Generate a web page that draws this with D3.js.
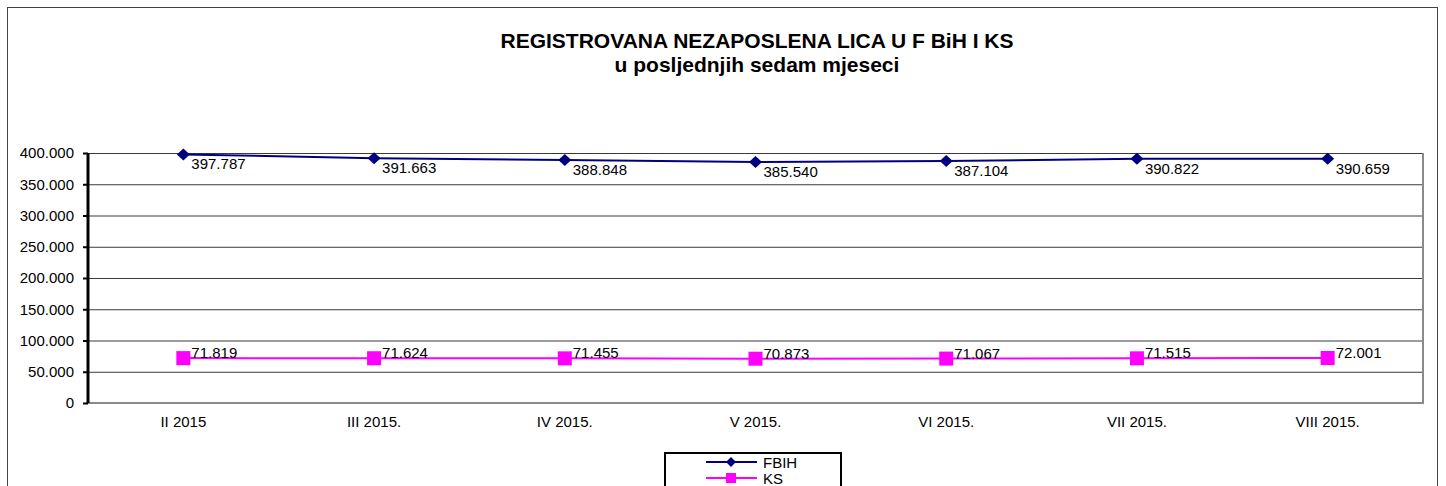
<!DOCTYPE html>
<html>
<head>
<meta charset="utf-8">
<script src="https://cdn.jsdelivr.net/npm/d3@7"></script>
<style>
  body { margin: 0; background: #fff; }
  svg { font-family: "Liberation Sans", Arial, sans-serif; }
</style>
</head>
<body>
<div id="chart"></div>
<script>
// data
const months = ["II 2015", "III 2015.", "IV 2015.", "V 2015.", "VI 2015.", "VII 2015.", "VIII 2015."];
const fbih = [397787, 391663, 388848, 385540, 387104, 390822, 390659];
const ks = [71819, 71624, 71455, 70873, 71067, 71515, 72001];
const yTicks = [0, 50000, 100000, 150000, 200000, 250000, 300000, 350000, 400000];
const seriesNames = ["FBIH", "KS"];

const width = 1446, height = 486;
const plot = { left: 88, right: 1423, top: 153, bottom: 403 };

const loc = d3.formatLocale({ decimal: ",", thousands: ".", grouping: [3], currency: ["", ""] });
const fmt = loc.format(",.0f");

let svg = d3.select("#chart").append("svg")
  .attr("width", width)
  .attr("height", height);

// outer frame
svg.append("rect")
  .attr("x", 7.5).attr("y", 7.5)
  .attr("width", 1430).attr("height", 500)
  .attr("fill", "none").attr("stroke", "#444").attr("stroke-width", 1);

// title
let title = svg.append("text")
  .attr("text-anchor", "middle")
  .attr("font-weight", "bold").attr("font-size", 21).attr("fill", "#000");
title.append("tspan").attr("x", 757).attr("y", 48).text("REGISTROVANA NEZAPOSLENA LICA U F BiH I KS");
title.append("tspan").attr("x", 757).attr("y", 72).text("u posljednjih sedam mjeseci");

let x = d3.scaleBand().domain(months).range([plot.left, plot.right]);
let y = d3.scaleLinear().domain([0, 400000]).range([plot.bottom, plot.top]);

// gridlines
svg.append("g")
  .selectAll("line")
  .data(yTicks.filter(d => d > 0))
  .join("line")
  .attr("x1", plot.left).attr("x2", plot.right)
  .attr("y1", d => y(d) + 0.5).attr("y2", d => y(d) + 0.5)
  .attr("stroke", "#3a3a3a").attr("stroke-width", 1);

// plot area border (right + bottom, grey)
svg.append("path")
  .attr("d", `M${plot.right},${plot.top}V${plot.bottom}H${plot.left}`)
  .attr("fill", "none").attr("stroke", "#8a8a8a").attr("stroke-width", 2);

// y axis
let yAxis = svg.append("g")
  .attr("transform", `translate(${plot.left},0)`)
  .call(d3.axisLeft(y).tickValues(yTicks).tickFormat(fmt).tickSize(5).tickPadding(9));
yAxis.select(".domain").attr("stroke", "#000").attr("stroke-width", 3)
  .attr("d", `M0,${plot.top}V${plot.bottom}`);
yAxis.selectAll(".tick line").attr("stroke", "#000").attr("stroke-width", 2);
yAxis.selectAll(".tick text").attr("font-size", 15).attr("font-family", "Liberation Sans, Arial, sans-serif").attr("fill", "#000");

// x labels
svg.append("g")
  .selectAll("text")
  .data(months)
  .join("text")
  .attr("x", d => x(d) + x.bandwidth() / 2)
  .attr("y", 427)
  .attr("text-anchor", "middle")
  .attr("font-size", 15)
  .text(d => d);

let line = d3.line()
  .x((d, i) => x(months[i]) + x.bandwidth() / 2)
  .y(d => y(d));

// FBIH
svg.append("path").datum(fbih)
  .attr("d", line).attr("fill", "none")
  .attr("stroke", "#000080").attr("stroke-width", 2);
svg.append("g").selectAll("path")
  .data(fbih).join("path")
  .attr("d", "M0,-6L6.5,0L0,6L-6.5,0Z")
  .attr("transform", (d, i) => `translate(${x(months[i]) + x.bandwidth() / 2},${y(d)})`)
  .attr("fill", "#000080");
svg.append("g").selectAll("text")
  .data(fbih).join("text")
  .attr("x", (d, i) => x(months[i]) + x.bandwidth() / 2 + 8)
  .attr("y", d => y(d) + 15)
  .attr("font-size", 15)
  .text(d => fmt(d));

// KS
svg.append("path").datum(ks)
  .attr("d", line).attr("fill", "none")
  .attr("stroke", "#ff00ff").attr("stroke-width", 2);
svg.append("g").selectAll("rect")
  .data(ks).join("rect")
  .attr("x", (d, i) => x(months[i]) + x.bandwidth() / 2 - 7)
  .attr("y", d => y(d) - 7)
  .attr("width", 14).attr("height", 14)
  .attr("fill", "#ff00ff");
svg.append("g").selectAll("text")
  .data(ks).join("text")
  .attr("x", (d, i) => x(months[i]) + x.bandwidth() / 2 + 8)
  .attr("y", d => y(d))
  .attr("font-size", 15)
  .text(d => fmt(d));

// legend
let legend = svg.append("g");
legend.append("rect")
  .attr("x", 665).attr("y", 453)
  .attr("width", 176).attr("height", 40)
  .attr("fill", "#fff").attr("stroke", "#000").attr("stroke-width", 2);
let colors = ["#000080", "#ff00ff"];
seriesNames.forEach(function (name, i) {
  let ly = 462 + i * 16;
  legend.append("line")
    .attr("x1", 706).attr("x2", 757).attr("y1", ly).attr("y2", ly)
    .attr("stroke", colors[i]).attr("stroke-width", 2);
  if (i === 0) {
    legend.append("path").attr("d", "M0,-5L5,0L0,5L-5,0Z")
      .attr("transform", `translate(731,${ly})`).attr("fill", colors[i]);
  } else {
    legend.append("rect").attr("x", 726).attr("y", ly - 5)
      .attr("width", 10).attr("height", 10).attr("fill", colors[i]);
  }
  legend.append("text")
    .attr("x", 763).attr("y", ly + 6)
    .attr("font-size", 15)
    .text(name);
});
</script>
</body>
</html>
